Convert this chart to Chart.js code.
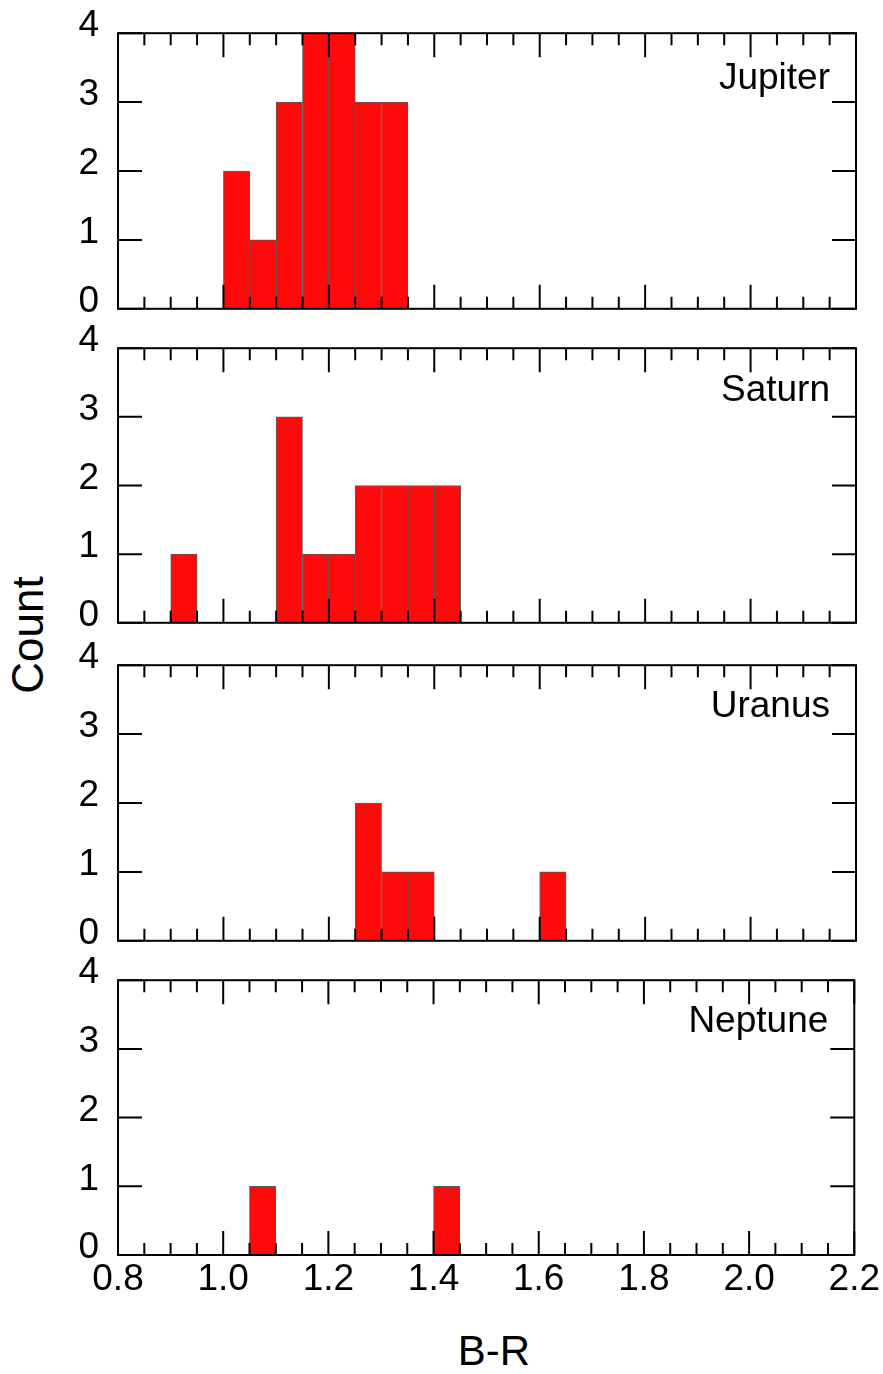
<!DOCTYPE html>
<html>
<head>
<meta charset="utf-8">
<title>B-R colour histograms</title>
<script src="https://cdn.jsdelivr.net/npm/chart.js@4.4.0/dist/chart.umd.min.js"></script>
<style>
  body { margin: 0; background: #fff; }
  #figure { position: relative; width: 883px; height: 1374px; overflow: hidden; background: #fff;
            font-family: "Liberation Sans", Arial, sans-serif; color: #000; }
  #figure canvas { position: absolute; left: 0; }
  .axis-title { position: absolute; width: 200px; text-align: center; white-space: nowrap; }
  #ytitle { left: -72px; top: 613px; font-size: 44px; line-height: 44px; transform: rotate(-90deg); }
  #xtitle { left: 394px; top: 1330px; font-size: 42px; line-height: 42px; }
</style>
</head>
<body>
<div id="figure">
  <div class="axis-title" id="ytitle">Count</div>
  <div class="axis-title" id="xtitle">B-R</div>
</div>
<script>
// histogram bins (centres), width 0.05
const binCenters = [0.825, 0.875, 0.925, 0.975, 1.025, 1.075, 1.125, 1.175, 1.225, 1.275,
                    1.325, 1.375, 1.425, 1.475, 1.525, 1.575, 1.625, 1.675, 1.725, 1.775,
                    1.825, 1.875, 1.925, 1.975, 2.025, 2.075, 2.125, 2.175];

const jupiterCounts = [0, 0, 0, 0, 2, 1, 3, 4, 4, 3, 3, 0, 0, 0, 0, 0, 0, 0, 0, 0, 0, 0, 0, 0, 0, 0, 0, 0];
const saturnCounts  = [0, 0, 1, 0, 0, 0, 3, 1, 1, 2, 2, 2, 2, 0, 0, 0, 0, 0, 0, 0, 0, 0, 0, 0, 0, 0, 0, 0];
const uranusCounts  = [0, 0, 0, 0, 0, 0, 0, 0, 0, 2, 1, 1, 0, 0, 0, 0, 1, 0, 0, 0, 0, 0, 0, 0, 0, 0, 0, 0];
const neptuneCounts = [0, 0, 0, 0, 0, 1, 0, 0, 0, 0, 0, 0, 1, 0, 0, 0, 0, 0, 0, 0, 0, 0, 0, 0, 0, 0, 0, 0];

const planetNames = ['Jupiter', 'Saturn', 'Uranus', 'Neptune'];
const planetCounts = [jupiterCounts, saturnCounts, uranusCounts, neptuneCounts];

const xMin = 0.8, xMax = 2.2;
const xTickLabels = ['0.8', '1.0', '1.2', '1.4', '1.6', '1.8', '2.0', '2.2'];
const yTickLabels = [0, 1, 2, 3, 4];

// panel geometry
const panelTops = [33, 348, 665, 980];
const panelHeights = [276, 275, 276, 275];
const labelBaselines = [56, 53, 52, 52];
// the y scale reserves half a label plus its padding above and below the plot
const PAD = 41;

const FONT = '"Liberation Sans", Arial, sans-serif';
Chart.defaults.font.family = FONT;
Chart.defaults.font.size = 37;
Chart.defaults.color = '#000';

// box, inward ticks on all four sides and the planet name
const panelFrame = {
	id: 'panelFrame',
	afterDatasetsDraw(chart, args, opts) {
		const {ctx, chartArea: a, scales: {x, y}} = chart;
		ctx.save();
		ctx.strokeStyle = '#000';
		ctx.lineWidth = 2;
		ctx.beginPath();
		for (let k = 0; k <= 28; k++) {
			const px = x.getPixelForValue(xMin + k * 0.05);
			const len = k % 4 === 0 ? 24 : 12;
			ctx.moveTo(px, a.bottom); ctx.lineTo(px, a.bottom - len);
			ctx.moveTo(px, a.top); ctx.lineTo(px, a.top + len);
		}
		yTickLabels.forEach(v => {
			const py = y.getPixelForValue(v);
			ctx.moveTo(a.left, py); ctx.lineTo(a.left + 24, py);
			ctx.moveTo(a.right, py); ctx.lineTo(a.right - 24, py);
		});
		ctx.stroke();
		ctx.strokeRect(a.left, a.top, a.right - a.left, a.bottom - a.top);

		ctx.font = '37px ' + FONT;
		ctx.fillStyle = '#000';
		ctx.textAlign = 'right';
		ctx.textBaseline = 'alphabetic';
		ctx.fillText(opts.label, a.right - 26, a.top + opts.baseline);
		ctx.restore();
	}
};

const figure = document.getElementById('figure');

planetNames.forEach((name, i) => {
	const last = i === planetNames.length - 1;
	const bottomSpace = last ? 60 : PAD;

	const canvas = document.createElement('canvas');
	canvas.width = 883;
	canvas.height = PAD + panelHeights[i] + bottomSpace;
	canvas.style.top = (panelTops[i] - PAD) + 'px';
	figure.appendChild(canvas);

	new Chart(canvas, {
		type: 'bar',
		data: {
			datasets: [{
				label: name,
				data: binCenters.map((c, k) => ({x: c, y: planetCounts[i][k]})),
				backgroundColor: '#ff0a0a',
				borderColor: '#5a5a5a',
				borderWidth: 1,
				barPercentage: 1,
				categoryPercentage: 1
			}]
		},
		options: {
			responsive: false,
			animation: false,
			events: [],
			layout: {padding: {top: PAD, left: 0, right: 27, bottom: last ? 0 : PAD}},
			plugins: {
				legend: {display: false},
				tooltip: {enabled: false},
				panelFrame: {label: name, baseline: labelBaselines[i]}
			},
			scales: {
				x: {
					type: 'linear',
					min: xMin,
					max: xMax,
					offset: false,
					display: last,
					grid: {display: false, drawTicks: false},
					border: {display: false},
					ticks: {
						stepSize: 0.2,
						padding: 3,
						maxRotation: 0,
						autoSkip: false,
						callback: (v, idx) => xTickLabels[idx]
					},
					afterFit: s => { s.height = last ? 60 : 0; }
				},
				y: {
					type: 'linear',
					min: 0,
					max: 4,
					grid: {display: false, drawTicks: false},
					border: {display: false},
					ticks: {
						stepSize: 1,
						padding: 19,
						labelOffset: -7,
						callback: (v, idx) => yTickLabels[idx]
					},
					afterFit: s => { s.width = 118; }
				}
			}
		},
		plugins: [panelFrame]
	});
});
</script>
</body>
</html>
